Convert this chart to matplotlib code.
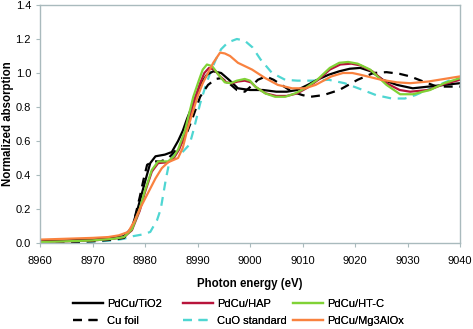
import matplotlib
matplotlib.use("Agg")
import matplotlib.pyplot as plt

plt.rcParams['font.family'] = ['Liberation Sans', 'DejaVu Sans']

# PdCu/TiO2
tio2_x = [8960, 8965, 8970, 8974, 8976, 8977.5, 8978.5, 8979.3, 8980, 8981, 8982, 8983.8, 8985.1, 8986.3, 8987.2,
          8988, 8989.3, 8990.5, 8991.8, 8993, 8994.5, 8996, 8997.7, 9000, 9002.5, 9005, 9007, 9009, 9011, 9012.8,
          9015, 9017, 9019, 9021, 9023, 9025.3, 9028, 9031, 9034, 9037, 9040]
tio2_y = [0.01, 0.015, 0.02, 0.03, 0.04, 0.09, 0.19, 0.28, 0.36, 0.47, 0.51, 0.52, 0.535, 0.6, 0.66,
          0.73, 0.83, 0.93, 0.99, 1.01, 1.0, 0.96, 0.91, 0.9, 0.9, 0.89, 0.89, 0.9, 0.93, 0.96,
          0.99, 1.01, 1.025, 1.03, 1.01, 0.96, 0.93, 0.91, 0.92, 0.93, 0.94]

# Cu foil
cu_x = [8960, 8965, 8970, 8974, 8976, 8977.5, 8978.3, 8979, 8979.7, 8980.4, 8981.5, 8983, 8984.5, 8986, 8987,
        8988, 8989, 8990.5, 8992, 8993.5, 8994.5, 8996, 8997.5, 8999, 9000.5, 9001.5, 9003, 9004.5, 9006, 9008,
        9010, 9011.5, 9014, 9017, 9020.5, 9023.5, 9026, 9028.5, 9030.5, 9033, 9035.6, 9038, 9040]
cu_y = [0.0, 0.005, 0.01, 0.02, 0.03, 0.08, 0.18, 0.27, 0.37, 0.46, 0.48, 0.48, 0.5, 0.55, 0.59,
        0.65, 0.73, 0.86, 0.93, 0.965, 0.97, 0.94, 0.9, 0.89, 0.93, 0.96, 0.98, 0.96, 0.93, 0.89,
        0.87, 0.86, 0.87, 0.9, 0.96, 1.0, 1.005, 0.995, 0.98, 0.95, 0.92, 0.92, 0.92]

# PdCu/HT-C
htc_x = [8960, 8965, 8970, 8974, 8976, 8977.5, 8979, 8980, 8981.3, 8982.5, 8984.4, 8985.5, 8986.3, 8987.6, 8989.2,
         8990.3, 8991, 8991.8, 8992.8, 8994, 8995.2, 8996.3, 8997.5, 8999, 9000, 9001, 9002.9, 9004.8, 9006.7,
         9008.6, 9010.5, 9012.8, 9015.2, 9017, 9018.7, 9020.5, 9022.9, 9026, 9028.6, 9031, 9034.3, 9037, 9040]
htc_y = [0.005, 0.01, 0.015, 0.025, 0.035, 0.08, 0.2, 0.31, 0.43, 0.48, 0.48, 0.51, 0.55, 0.66, 0.86,
         0.96, 1.02, 1.05, 1.04, 0.99, 0.945, 0.94, 0.955, 0.965, 0.955, 0.92, 0.88, 0.86, 0.86,
         0.88, 0.91, 0.96, 1.03, 1.06, 1.065, 1.055, 1.02, 0.93, 0.875, 0.875, 0.9, 0.94, 0.97]

# PdCu/HAP
hap_x = [8960, 8965, 8970, 8974, 8976, 8977.5, 8979, 8980, 8981.3, 8982.5, 8984.4, 8985.5, 8986.5, 8987.8, 8989.4,
         8990.5, 8991.3, 8992.2, 8993.2, 8994.3, 8995.5, 8996.5, 8997.7, 8999, 9000.2, 9001.2, 9003, 9005, 9007,
         9009, 9011, 9013, 9015.2, 9017.2, 9019.3, 9021, 9023.3, 9026, 9028.5, 9030.5, 9034, 9037, 9040]
hap_y = [0.005, 0.01, 0.015, 0.025, 0.035, 0.075, 0.19, 0.3, 0.42, 0.47, 0.475, 0.5, 0.55, 0.65, 0.84,
         0.94, 1.0, 1.03, 1.02, 0.98, 0.945, 0.94, 0.95, 0.955, 0.945, 0.915, 0.88, 0.865, 0.865,
         0.88, 0.915, 0.96, 1.02, 1.05, 1.055, 1.045, 1.01, 0.94, 0.9, 0.89, 0.9, 0.935, 0.96]

# PdCu/Mg3AlOx
mg_x = [8960, 8965, 8970, 8973, 8975, 8976.8, 8978, 8979, 8980, 8981, 8982, 8983.2, 8984.4, 8986.3, 8987.2,
        8988, 8989.2, 8990, 8991, 8992, 8993, 8994.3, 8995.2, 8996.2, 8997.7, 9000.4, 9002.9, 9005.3, 9008,
        9010.5, 9012.5, 9015.5, 9017.7, 9019.5, 9021, 9025, 9028, 9030.5, 9034, 9037, 9040]
mg_y = [0.02, 0.025, 0.03, 0.035, 0.045, 0.065, 0.13, 0.2, 0.26, 0.32, 0.38, 0.44, 0.475, 0.5, 0.56,
        0.66, 0.78, 0.86, 0.94, 1.0, 1.06, 1.12, 1.115, 1.1, 1.06, 1.02, 0.97, 0.93, 0.91,
        0.91, 0.93, 0.98, 1.0, 1.0, 0.99, 0.96, 0.945, 0.94, 0.95, 0.965, 0.98]

# CuO standard
cuo_x = [8960, 8965, 8970, 8974, 8976, 8977.7, 8979.5, 8981, 8982.3, 8983, 8983.5, 8984, 8984.6, 8985.5, 8987,
         8988.5, 8989.3, 8990.5, 8991.5, 8992.4, 8993.5, 8994.5, 8995.8, 8997.5, 8999, 9000.5, 9002, 9004.2,
         9006.7, 9009, 9012, 9015, 9018, 9021.5, 9024, 9027, 9029.5, 9031.5, 9033.7, 9036, 9038.7, 9040]
cuo_y = [0.0, 0.003, 0.008, 0.015, 0.025, 0.04, 0.05, 0.065, 0.135, 0.2, 0.29, 0.38, 0.47, 0.52, 0.53,
         0.58, 0.67, 0.82, 0.92, 1.0, 1.08, 1.14, 1.18, 1.2, 1.19, 1.15, 1.08, 1.0,
         0.96, 0.955, 0.955, 0.96, 0.94, 0.9, 0.87, 0.85, 0.85, 0.87, 0.9, 0.93, 0.965, 0.97]

x_ticks = [8960, 8970, 8980, 8990, 9000, 9010, 9020, 9030, 9040]
y_ticks = [0.0, 0.2, 0.4, 0.6, 0.8, 1.0, 1.2, 1.4]

W, H = 473, 329
fig = plt.figure(figsize=(W/100, H/100), dpi=100)
ax = fig.add_axes([40/W, 1-243/H, 420/W, 238/H])

lw = 1.6
l_cuo, = ax.plot(cuo_x, cuo_y, color='#4fd6d2', lw=lw, dashes=(4, 3), label='CuO standard')
l_cu, = ax.plot(cu_x, cu_y, color='black', lw=lw, dashes=(4, 3), label='Cu foil')
l_tio2, = ax.plot(tio2_x, tio2_y, color='black', lw=lw, label='PdCu/TiO2')
l_hap, = ax.plot(hap_x, hap_y, color='#b8143c', lw=lw, label='PdCu/HAP')
l_htc, = ax.plot(htc_x, htc_y, color='#80d236', lw=lw, label='PdCu/HT-C')
l_mg, = ax.plot(mg_x, mg_y, color='#f9823f', lw=lw, label='PdCu/Mg3AlOx')

ax.set_xlim(8960, 9040)
ax.set_ylim(0, 1.4)
ax.set_xticks(x_ticks)
ax.set_yticks(y_ticks)
ax.set_yticklabels([f'{v:.1f}' for v in y_ticks])
for s in ax.spines.values():
    s.set_color('#a9babd')
    s.set_linewidth(1.0)
ax.tick_params(axis='both', colors='#a9babd', labelcolor='black', labelsize=8, length=3, width=0.8, direction='out')
ax.tick_params(axis='x', pad=6)
ax.set_xlabel('Photon energy (eV)', fontsize=8.3, fontweight='bold')
ax.xaxis.set_label_coords(0.5, -(273 - 243 + 5) / 238)
ax.set_ylabel('Normalized absorption', fontsize=8.3, fontweight='bold')
ax.yaxis.set_label_coords(-(40 - 14) / 420, 0.5)

columns = [([l_tio2, l_cu], 73), ([l_hap, l_cuo], 183), ([l_htc, l_mg], 293)]
for hs, xpx in columns:
    leg = fig.legend(handles=hs, labels=[h.get_label() for h in hs], frameon=False, fontsize=8,
                     loc='center left', bbox_to_anchor=(xpx/W, 1-312.5/H), handlelength=2.7,
                     handletextpad=0.4, labelspacing=0.62, borderpad=0, borderaxespad=0)
    fig.add_artist(leg)

fig.savefig('out.png', dpi=100)
